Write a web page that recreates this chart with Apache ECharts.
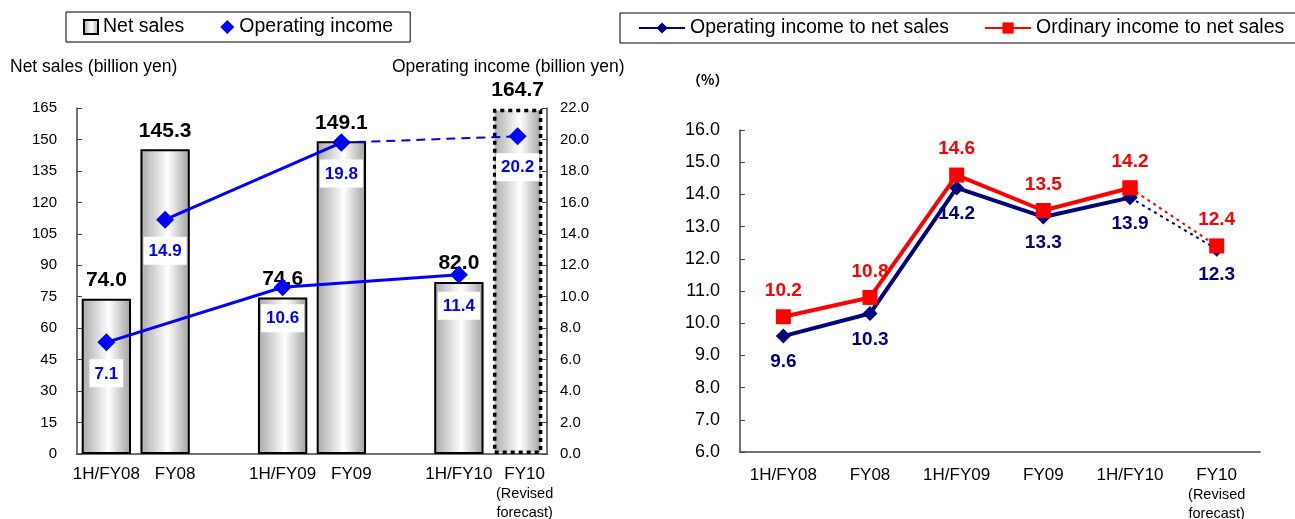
<!DOCTYPE html>
<html>
<head>
<meta charset="utf-8">
<script src="https://cdn.jsdelivr.net/npm/echarts@6/dist/echarts.min.js"></script>
<style>
  html, body { margin: 0; padding: 0; background: #fff; }
  #main { width: 1295px; height: 519px; }
</style>
</head>
<body>
<div id="main"></div>
<script>
// left chart: net sales (bars) + operating income (lines)
const leftCategories = ['1H/FY08', 'FY08', '', '1H/FY09', 'FY09', '', '1H/FY10', 'FY10'];
const netSales = [74.0, 145.3, null, 74.6, 149.1, null, 82.0, 164.7];
const opIncomeHalf = [7.1, null, null, 10.6, null, null, 11.4, null];
const opIncomeFull = [null, 14.9, null, null, 19.8, null, null, null];
const opIncomeForecast = [null, null, null, null, 19.8, null, null, 20.2];
const forecastIndex = 7;

// right chart: margins (%)
const rightCategories = ['1H/FY08', 'FY08', '1H/FY09', 'FY09', '1H/FY10', 'FY10'];
const opMargin = [9.6, 10.3, 14.2, 13.3, 13.9, 12.3];
const ordMargin = [10.2, 10.8, 14.6, 13.5, 14.2, 12.4];

const FONT = 'Liberation Sans, Arial, sans-serif';

const chart = echarts.init(document.getElementById('main'), null, { renderer: 'canvas' });

const barGradient = new echarts.graphic.LinearGradient(0, 0, 1, 0, [
  { offset: 0, color: '#a9a9a9' },
  { offset: 0.55, color: '#ffffff' },
  { offset: 1, color: '#9e9e9e' }
]);

// left chart: full-year labels sit a little right of their bars
function leftLabel(v) {
  if (v === 'FY10') return '{fc|FY10}\n{sc|(Revised}\n{sc|forecast)}';
  if (v === 'FY08' || v === 'FY09') return '{f|' + v + '}';
  return v;
}
function rightLabel(v) {
  if (v === 'FY10') return 'FY10\n{s|(Revised}\n{s|forecast)}';
  return v;
}

// solid part = everything but the forecast point, dotted part = last segment
function solidPart(arr) {
  return arr.map((v, i) => (i < arr.length - 1 ? v : null));
}
function forecastPart(arr) {
  return arr.map((v, i) => (i >= arr.length - 2 ? v : null));
}
function lastOnly(arr, label) {
  return arr.map((v, i) => (v == null ? null : {
    value: v,
    label: i === arr.length - 1 ? label : { show: false }
  }));
}

const fmt1 = p => p.value.toFixed(1);

const blueLabel = {
  show: true, position: 'bottom', distance: 8,
  color: '#0000ff', fontFamily: FONT, fontWeight: 'bold', fontSize: 17,
  backgroundColor: '#fff', padding: [6, 5, 5, 5],
  formatter: fmt1
};
const navyLabel = {
  show: true, position: 'bottom', distance: 9, color: '#000080',
  fontFamily: FONT, fontWeight: 'bold', fontSize: 19, formatter: fmt1
};
const redLabel = {
  show: true, position: 'top', distance: 9, color: '#ff0000',
  fontFamily: FONT, fontWeight: 'bold', fontSize: 19, formatter: fmt1
};

const axisColor = '#444';
const small = { fontSize: 14.5, lineHeight: 19, fontFamily: FONT, color: '#000' };

chart.setOption({
  animation: false,
  textStyle: { fontFamily: FONT },
  legend: [
    {
      left: 66, top: 12,
      padding: [5, 17, 5, 17],
      itemGap: 36,
      borderColor: '#000', borderWidth: 1,
      itemWidth: 14, itemHeight: 14,
      textStyle: { fontSize: 19.5, color: '#000', fontFamily: FONT },
      data: [
        { name: 'Net sales', icon: 'rect', itemStyle: { color: barGradient, borderColor: '#000', borderWidth: 2 } },
        { name: 'Operating income', icon: 'diamond', itemStyle: { color: '#0000ff' } }
      ]
    },
    {
      left: 620, top: 13, width: 900,
      padding: [5, 40, 5, 18],
      itemGap: 35,
      borderColor: '#000', borderWidth: 1,
      itemWidth: 46, itemHeight: 14,
      textStyle: { fontSize: 19.5, color: '#000', fontFamily: FONT },
      data: ['Operating income to net sales', 'Ordinary income to net sales']
    }
  ],
  graphic: [
    { type: 'text', left: 10, top: 58, style: { text: 'Net sales (billion yen)', font: '17.5px ' + FONT, fill: '#000' } },
    { type: 'text', left: 392, top: 58, style: { text: 'Operating income (billion yen)', font: '17.5px ' + FONT, fill: '#000' } },
    { type: 'text', left: 687, top: 73, style: { text: '（%）', font: 'bold 14px Noto Sans CJK JP, sans-serif', fill: '#000' } }
  ],
  grid: [
    { left: 77, right: 748, top: 108, bottom: 65, containLabel: false, outerBoundsMode: 'none' },
    { left: 740, right: 35, top: 130, bottom: 67, containLabel: false, outerBoundsMode: 'none' }
  ],
  xAxis: [
    {
      type: 'category', gridIndex: 0, data: leftCategories,
      axisLine: { lineStyle: { color: axisColor, width: 1.5 } },
      axisTick: { inside: true, length: 5, lineStyle: { color: axisColor } },
      axisLabel: {
        interval: 0, margin: 10, color: '#000', fontSize: 17, fontFamily: FONT, lineHeight: 20,
        formatter: leftLabel,
        rich: {
          f: { fontSize: 17, fontFamily: FONT, color: '#000', padding: [0, 0, 0, 20] },
          fc: { fontSize: 17, lineHeight: 20, fontFamily: FONT, color: '#000', padding: [0, 0, 0, 14] },
          sc: Object.assign({ padding: [0, 0, 0, 14] }, small)
        }
      }
    },
    {
      type: 'category', gridIndex: 1, data: rightCategories,
      axisLine: { lineStyle: { color: axisColor, width: 1.5 } },
      axisTick: { inside: true, length: 5, lineStyle: { color: axisColor } },
      axisLabel: {
        interval: 0, margin: 13, color: '#000', fontSize: 17, fontFamily: FONT, lineHeight: 20,
        formatter: rightLabel, rich: { s: small }
      }
    }
  ],
  yAxis: [
    {
      type: 'value', gridIndex: 0, min: 0, max: 165, interval: 15,
      splitLine: { show: false },
      axisLine: { show: true, lineStyle: { color: axisColor, width: 1.5 } },
      axisTick: { show: true, inside: true, length: 5, lineStyle: { color: axisColor } },
      axisLabel: { color: '#000', fontSize: 15, fontFamily: FONT, margin: 20 }
    },
    {
      type: 'value', gridIndex: 0, position: 'right', min: 0, max: 22, interval: 2,
      splitLine: { show: false },
      axisLine: { show: true, lineStyle: { color: axisColor, width: 1.5 } },
      axisTick: { show: true, inside: true, length: 5, lineStyle: { color: axisColor } },
      axisLabel: { color: '#000', fontSize: 15, fontFamily: FONT, margin: 13, formatter: v => v.toFixed(1) }
    },
    {
      type: 'value', gridIndex: 1, min: 6, max: 16, interval: 1,
      splitLine: { show: false },
      axisLine: { show: true, lineStyle: { color: axisColor, width: 1.5 } },
      axisTick: { show: true, inside: true, length: 5, lineStyle: { color: axisColor } },
      axisLabel: { color: '#000', fontSize: 18, fontFamily: FONT, margin: 20, formatter: v => v.toFixed(1) }
    }
  ],
  series: [
    {
      name: 'Net sales', type: 'bar', xAxisIndex: 0, yAxisIndex: 0,
      barCategoryGap: '16%', z: 1,
      itemStyle: { color: barGradient, borderColor: '#000', borderWidth: 2 },
      label: {
        show: true, position: 'top', distance: 8, color: '#000',
        fontFamily: FONT, fontWeight: 'bold', fontSize: 21, formatter: fmt1
      },
      data: netSales.map((v, i) => (v == null ? null : (i === forecastIndex ? {
        value: v,
        itemStyle: { borderColor: '#000', borderWidth: 3.5, borderType: [4, 4] }
      } : v)))
    },
    {
      name: 'Operating income', type: 'line', xAxisIndex: 0, yAxisIndex: 1,
      connectNulls: true, z: 5, symbol: 'diamond', symbolSize: 18,
      lineStyle: { color: '#0000ff', width: 3 },
      itemStyle: { color: '#0000ff' },
      label: blueLabel,
      data: opIncomeHalf
    },
    {
      name: 'Operating income', type: 'line', xAxisIndex: 0, yAxisIndex: 1,
      connectNulls: true, z: 5, symbol: 'diamond', symbolSize: 18,
      lineStyle: { color: '#0000ff', width: 3 },
      itemStyle: { color: '#0000ff' },
      label: blueLabel,
      data: opIncomeFull
    },
    {
      name: 'Operating income', type: 'line', xAxisIndex: 0, yAxisIndex: 1,
      connectNulls: true, z: 4, symbol: 'diamond', symbolSize: 18,
      lineStyle: { color: '#0000ff', width: 2, type: [9, 6] },
      itemStyle: { color: '#0000ff' },
      data: lastOnly(opIncomeForecast, blueLabel)
    },
    {
      name: 'Operating income to net sales', type: 'line', xAxisIndex: 1, yAxisIndex: 2,
      symbol: 'diamond', symbolSize: 15, z: 5,
      lineStyle: { color: '#000080', width: 4 },
      itemStyle: { color: '#000080' },
      label: navyLabel,
      data: solidPart(opMargin)
    },
    {
      name: 'Operating income to net sales', type: 'line', xAxisIndex: 1, yAxisIndex: 2,
      symbol: 'diamond', symbolSize: 15, z: 4,
      lineStyle: { color: '#000080', width: 2, type: [3, 4] },
      itemStyle: { color: '#000080' },
      data: lastOnly(forecastPart(opMargin), navyLabel)
    },
    {
      name: 'Ordinary income to net sales', type: 'line', xAxisIndex: 1, yAxisIndex: 2,
      symbol: 'rect', symbolSize: 15, z: 6,
      lineStyle: { color: '#ff0000', width: 4 },
      itemStyle: { color: '#ff0000' },
      label: redLabel,
      data: solidPart(ordMargin)
    },
    {
      name: 'Ordinary income to net sales', type: 'line', xAxisIndex: 1, yAxisIndex: 2,
      symbol: 'rect', symbolSize: 15, z: 4,
      lineStyle: { color: '#ff0000', width: 2, type: [3, 4] },
      itemStyle: { color: '#ff0000' },
      data: lastOnly(forecastPart(ordMargin), redLabel)
    }
  ]
});
</script>
</body>
</html>
